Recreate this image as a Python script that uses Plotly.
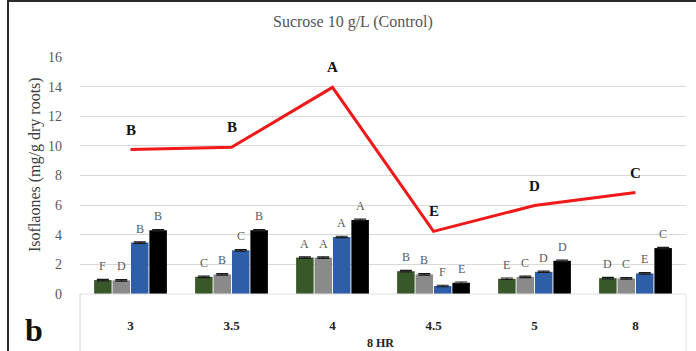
import plotly.graph_objects as go

# ---- data ----
categories = ["3", "3.5", "4", "4.5", "5", "8"]
series_names = ["S1", "S2", "S3", "S4"]
green_vals = [0.94, 1.16, 2.46, 1.54, 1.03, 1.07]
gray_vals = [0.92, 1.32, 2.46, 1.32, 1.16, 1.05]
blue_vals = [3.47, 2.95, 3.85, 0.54, 1.50, 1.39]
black_vals = [4.30, 4.30, 5.00, 0.76, 2.24, 3.10]
green_letters = ["F", "C", "A", "B", "E", "D"]
gray_letters = ["D", "B", "A", "B", "C", "C"]
blue_letters = ["B", "C", "A", "F", "D", "E"]
black_letters = ["B", "B", "A", "E", "D", "C"]
total_vals = [9.75, 9.90, 13.95, 4.23, 5.97, 6.85]
total_letters = ["B", "B", "A", "E", "D", "C"]
y_ticks = [0, 2, 4, 6, 8, 10, 12, 14, 16]

colors = ["#38582a", "#8a8a8a", "#2f5ea8", "#000000"]
bar_vals = [green_vals, gray_vals, blue_vals, black_vals]
bar_letters = [green_letters, gray_letters, blue_letters, black_letters]

SERIF = "Liberation Serif, Times New Roman, serif"
BARGAP = 0.27
BARGROUPGAP = 0.05
n_series = len(bar_vals)
slot = (1 - BARGAP) / n_series

W, H = 696, 351
ML, MR, MT, MB = 80, 10, 57, 57
pw, ph = W - ML - MR, H - MT - MB


def px_x(p):
    return (p - ML) / pw


def px_y(p):
    return (H - MB - p) / ph


xs = list(range(len(categories)))

fig = go.Figure()
for j, (vals, col) in enumerate(zip(bar_vals, colors)):
    fig.add_trace(go.Bar(
        x=xs, y=vals, name=series_names[j], marker_color=col,
        marker_line_width=0,
        error_y=dict(type="constant", value=0.05, thickness=1.2, width=6, color="#1a1a1a"),
        showlegend=False,
    ))

fig.add_trace(go.Scatter(
    x=xs, y=total_vals, mode="lines",
    line=dict(color="#f01818", width=3), showlegend=False,
))

annotations = []
for j, (vals, letters) in enumerate(zip(bar_vals, bar_letters)):
    for i, (v, t) in enumerate(zip(vals, letters)):
        annotations.append(dict(
            x=i + (j - (n_series - 1) / 2) * slot, y=v, xref="x", yref="y",
            text=t, showarrow=False, yanchor="bottom", yshift=5,
            font=dict(family=SERIF, size=12, color="#595959"),
        ))
for i, (v, t) in enumerate(zip(total_vals, total_letters)):
    annotations.append(dict(
        x=i, y=v, xref="x", yref="y", text="<b>%s</b>" % t, showarrow=False,
        yanchor="bottom", yshift=10,
        font=dict(family=SERIF, size=15, color="#111111"),
    ))

annotations += [
    dict(x=px_x(353), y=px_y(22), xref="paper", yref="paper", yanchor="middle",
         text="Sucrose 10 g/L (Control)", showarrow=False,
         font=dict(family=SERIF, size=16, color="#555555")),
    dict(x=px_x(380), y=px_y(343), xref="paper", yref="paper", yanchor="middle",
         text="<b>8 HR</b>", showarrow=False,
         font=dict(family=SERIF, size=12, color="#222222")),
    dict(x=px_x(23), y=px_y(330), xref="paper", yref="paper", yanchor="middle",
         text="<b>b</b>", showarrow=False,
         font=dict(family=SERIF, size=32, color="#111111")),
    dict(x=px_x(35), y=px_y(165), xref="paper", yref="paper", textangle=-90,
         xanchor="center", yanchor="middle",
         text="Isoflaones (mg/g dry roots)", showarrow=False,
         font=dict(family=SERIF, size=16, color="#404040")),
]

fig.update_layout(
    width=W, height=H,
    margin=dict(l=ML, r=MR, t=MT, b=MB, autoexpand=False),
    paper_bgcolor="white", plot_bgcolor="white",
    barmode="group", bargap=BARGAP, bargroupgap=BARGROUPGAP,
    annotations=annotations,
    xaxis=dict(
        tickmode="array", tickvals=xs, ticktext=["<b>%s</b>" % c for c in categories],
        range=[-0.5, len(categories) - 0.5], showgrid=False, zeroline=False,
        showline=False, ticks="", ticklabelstandoff=22, automargin=False,
        tickfont=dict(family=SERIF, size=13, color="#222222"),
    ),
    yaxis=dict(
        range=[0, 16], tickvals=y_ticks, showgrid=True, gridcolor="#d9d9d9",
        gridwidth=1, zeroline=False, showline=False, ticks="",
        ticklabelstandoff=17, automargin=False,
        tickfont=dict(family=SERIF, size=14, color="#595959"),
    ),
    shapes=[
        dict(type="line", xref="paper", yref="paper", x0=0, x1=0, y0=0, y1=px_y(H),
             line=dict(color="#d4d4d4", width=1)),
        dict(type="line", xref="paper", yref="paper", x0=1, x1=1, y0=0, y1=px_y(H),
             line=dict(color="#e6e6e6", width=1)),
        dict(type="line", xref="paper", yref="paper", x0=0, x1=1, y0=0, y1=0,
             line=dict(color="#e0e0e0", width=1)),
        dict(type="line", xref="paper", yref="paper", x0=px_x(8), x1=px_x(8),
             y0=px_y(H), y1=px_y(0), line=dict(color="#2a2a2a", width=2)),
        dict(type="line", xref="paper", yref="paper", x0=px_x(8), x1=px_x(W),
             y0=px_y(1), y1=px_y(1), line=dict(color="#2a2a2a", width=2)),
    ],
)

fig.write_html("out.html", config={"displayModeBar": False},
               post_script="document.body.style.margin='0';")
